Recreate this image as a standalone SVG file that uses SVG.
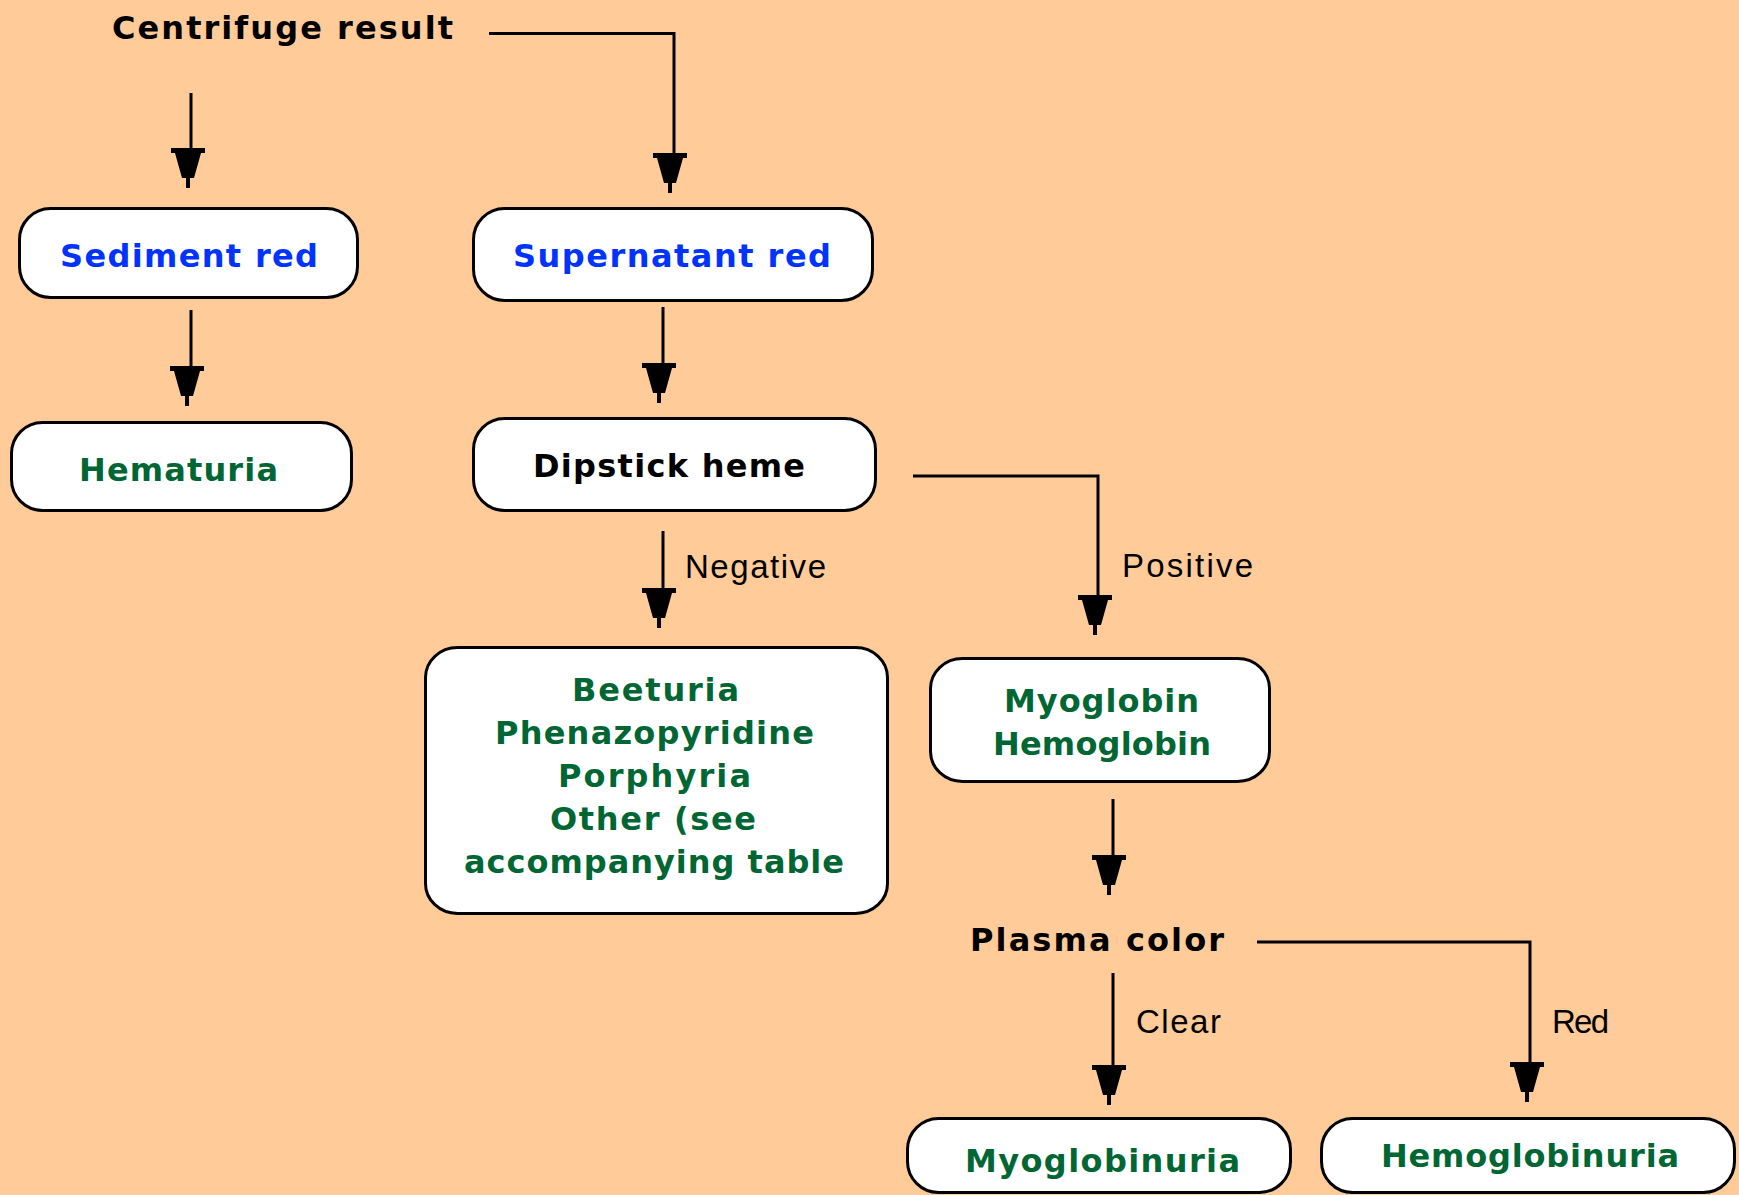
<svg xmlns="http://www.w3.org/2000/svg" xmlns:xlink="http://www.w3.org/1999/xlink" width="1739" height="1195" viewBox="0 0 1739 1195">
<style>
.box{fill:#FFFFFF;stroke:#000000;stroke-width:3}
.t{font-family:"DejaVu Sans","Liberation Sans",Arial,sans-serif;font-size:32px;font-weight:bold}
.blue{fill:#0033FF}
.green{fill:#006633}
.black{fill:#000000}
.lbl{font-family:"Liberation Sans",Arial,sans-serif;font-size:33px;fill:#000000}
.ln{fill:none;stroke:#000000;stroke-width:3}
</style>
<defs>
<path id="ah" d="M-17,-40 H17 V-35 H13 L6,-10 H2 V0 H-2 V-10 H-6 L-13,-35 H-17 Z" fill="#000000"/>
</defs>
<rect x="0" y="0" width="1739" height="1195" fill="#FFCC99"/>
<g id="connectors">
<path class="ln" d="M191,93 V150"/>
<use xlink:href="#ah" x="188" y="188"/>
<path class="ln" d="M489,33.5 H674 V155"/>
<use xlink:href="#ah" x="670" y="193"/>
<path class="ln" d="M191,310 V368"/>
<use xlink:href="#ah" x="187" y="406"/>
<path class="ln" d="M663,307 V365"/>
<use xlink:href="#ah" x="659" y="403"/>
<path class="ln" d="M663,531 V590"/>
<use xlink:href="#ah" x="659" y="628"/>
<text class="lbl" x="685" y="578" textLength="141" lengthAdjust="spacing">Negative</text>
<path class="ln" d="M913,476 H1098 V597"/>
<use xlink:href="#ah" x="1095" y="635"/>
<text class="lbl" x="1122" y="577" textLength="131" lengthAdjust="spacing">Positive</text>
<path class="ln" d="M1113,799 V857"/>
<use xlink:href="#ah" x="1109" y="895"/>
<path class="ln" d="M1113,973 V1067"/>
<use xlink:href="#ah" x="1109" y="1105"/>
<text class="lbl" x="1136" y="1033" textLength="85" lengthAdjust="spacing">Clear</text>
<path class="ln" d="M1257,942 H1530 V1064"/>
<use xlink:href="#ah" x="1527" y="1102"/>
<text class="lbl" x="1552" y="1033" textLength="57" lengthAdjust="spacing">Red</text>
</g>
<g id="centrifuge">
<text class="t black" x="112" y="39" textLength="341" lengthAdjust="spacing">Centrifuge result</text>
</g>
<g id="sediment">
<rect class="box" x="19.5" y="208.5" width="338" height="89" rx="31" ry="31"/>
<text class="t blue" x="60" y="267" textLength="258" lengthAdjust="spacing">Sediment red</text>
</g>
<g id="supernatant">
<rect class="box" x="473.5" y="208.5" width="399" height="92" rx="31" ry="31"/>
<text class="t blue" x="513" y="267" textLength="318" lengthAdjust="spacing">Supernatant red</text>
</g>
<g id="hematuria">
<rect class="box" x="11.5" y="422.5" width="340" height="88" rx="31" ry="31"/>
<text class="t green" x="79" y="481" textLength="199" lengthAdjust="spacing">Hematuria</text>
</g>
<g id="dipstick">
<rect class="box" x="473.5" y="418.5" width="402" height="92" rx="31" ry="31"/>
<text class="t black" x="533" y="477" textLength="272" lengthAdjust="spacing">Dipstick heme</text>
</g>
<g id="negative-causes">
<rect class="box" x="425.5" y="647.5" width="462" height="266" rx="32" ry="30"/>
<text class="t green" x="572" y="701" textLength="167" lengthAdjust="spacing">Beeturia</text>
<text class="t green" x="495" y="744" textLength="319" lengthAdjust="spacing">Phenazopyridine</text>
<text class="t green" x="558" y="787" textLength="193" lengthAdjust="spacing">Porphyria</text>
<text class="t green" x="550" y="830" textLength="206" lengthAdjust="spacing">Other (see</text>
<text class="t green" x="464" y="873" textLength="380" lengthAdjust="spacing">accompanying table</text>
</g>
<g id="myo-hemo">
<rect class="box" x="930.5" y="658.5" width="339" height="123" rx="32" ry="30"/>
<text class="t green" x="1004" y="712" textLength="195" lengthAdjust="spacing">Myoglobin</text>
<text class="t green" x="993" y="755" textLength="218" lengthAdjust="spacing">Hemoglobin</text>
</g>
<g id="plasma">
<text class="t black" x="970" y="951" textLength="254" lengthAdjust="spacing">Plasma color</text>
</g>
<g id="myoglobinuria">
<rect class="box" x="907.5" y="1118.5" width="383" height="74" rx="31" ry="31"/>
<text class="t green" x="965" y="1172" textLength="275" lengthAdjust="spacing">Myoglobinuria</text>
</g>
<g id="hemoglobinuria">
<rect class="box" x="1321.5" y="1118.5" width="413" height="74" rx="31" ry="31"/>
<text class="t green" x="1381" y="1167" textLength="298" lengthAdjust="spacing">Hemoglobinuria</text>
</g>
</svg>
